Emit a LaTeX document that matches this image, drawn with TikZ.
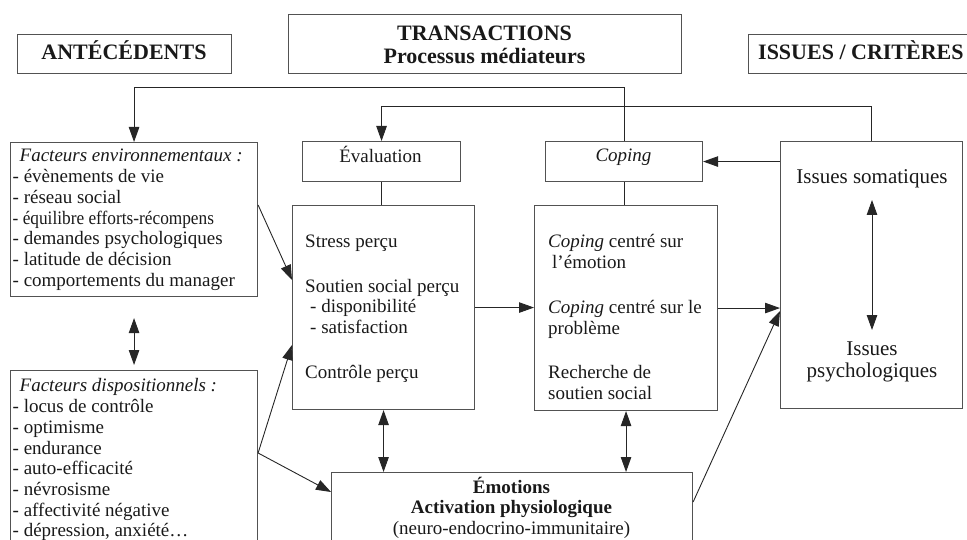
\documentclass[tikz,border=0pt]{standalone}
\usepackage{fontspec}
\setmainfont{Liberation Serif}
\usetikzlibrary{arrows.meta,calc}
\newcommand\topline{\rule{0pt}{20pt}}
\begin{document}
\begin{tikzpicture}[x=1pt,y=-1pt,
  frame/.style={draw=black!68, line width=1.1pt, inner sep=0pt, anchor=north west},
  conn/.style={draw=black!85, line width=0.9pt},
  tip/.style={Triangle[length=15pt,width=10.5pt]},
  arr/.style={conn, -{Triangle[length=15pt,width=10.5pt]}},
  darr/.style={conn, {Triangle[length=15pt,width=10.5pt]}-{Triangle[length=15pt,width=10.5pt]}},
  body/.style={font=\fontsize{19}{20.7}\selectfont, text=black!90, inner sep=0pt},
  bigbody/.style={font=\fontsize{21}{22}\selectfont, text=black!90, inner sep=0pt},
  head/.style={font=\fontsize{22}{23.5}\selectfont\bfseries, text=black!90, inner sep=0pt},
]
\useasboundingbox (0,0) rectangle (967,540);
\clip (0,0) rectangle (967,540);

% column headers
\node[frame, minimum width=214pt, minimum height=39pt] (hAnt) at (17,34) {};
\node[frame, minimum width=393pt, minimum height=59pt] (hTrans) at (288,14) {};
\node[frame, minimum width=230pt, minimum height=39pt] (hIss) at (748,34) {};
\node[head, anchor=base] (hAntT) at (124,59.5) {ANTÉCÉDENTS};
\node[head, anchor=north, align=center] (hTransT) at (484.5,20) {\topline TRANSACTIONS\\Processus médiateurs};
\node[head, anchor=base west] (hIssT) at (758,59.5) {ISSUES / CRITÈRES};

% boxes
\node[frame, minimum width=247pt, minimum height=154pt] (env) at (10,142) {};
\node[frame, minimum width=247pt, minimum height=190pt] (disp) at (10,370) {};
\node[frame, minimum width=158pt, minimum height=40pt] (eval) at (302,141) {};
\node[frame, minimum width=157pt, minimum height=40pt] (copS) at (545,141) {};
\node[frame, minimum width=182pt, minimum height=204pt] (stress) at (292,205) {};
\node[frame, minimum width=183pt, minimum height=205pt] (copB) at (534,205) {};
\node[frame, minimum width=182pt, minimum height=267pt] (iss) at (780,141) {};
\node[frame, minimum width=361pt, minimum height=90pt] (emo) at (331,472) {};

% box texts
\node[body, anchor=north west, align=left] (envT) at (12.5,141.7)
  {\topline\hspace{7pt}\textit{Facteurs environnementaux~:}\\
   - évènements de vie\\
   - réseau social\\
   \scalebox{0.91}[1]{- équilibre efforts-récompens}\\
   - demandes psychologiques\\
   - latitude de décision\\
   - comportements du manager};
\node[body, anchor=north west, align=left] (dispT) at (12.5,371.7)
  {\topline\hspace{7pt}\textit{Facteurs dispositionnels~:}\\
   - locus de contrôle\\
   - optimisme\\
   - endurance\\
   - auto-efficacité\\
   - névrosisme\\
   - affectivité négative\\
   - dépression, anxiété…};
\node[body, anchor=base] (evalT) at (380.5,163) {Évaluation};
\node[body, anchor=base] (copST) at (623.5,162) {\textit{Coping}};
\node[body, anchor=north west, align=left] (stressT) at (305,227.3)
  {\topline Stress perçu\\[24pt]
   Soutien social perçu\\
   \hspace{5pt}- disponibilité\\
   \hspace{5pt}- satisfaction\\[24pt]
   Contrôle perçu};
\node[body, anchor=north west, align=left] (copBT) at (548,227.7)
  {\topline\textit{Coping} centré sur\\
   \hspace{4pt}l’émotion\\[24pt]
   \textit{Coping} centré sur le\\
   problème\\[24pt]
   Recherche de\\
   soutien social};
\node[bigbody, anchor=base] (somT) at (872,184) {Issues somatiques};
\node[bigbody, anchor=north, align=center] (psyT) at (872,335)
  {\topline Issues\\psychologiques};
\node[body, anchor=north, align=center] (emoT) at (511.5,473)
  {\topline\textbf{Émotions}\\
   \textbf{Activation physiologique}\\
   (neuro-endocrino-immunitaire)};

% feedback loops along the top
\coordinate (top1) at (0,87);
\coordinate (top2) at (0,106);
\draw[arr] (copS.north) -- (copS.north |- top1) -| (env.north);
\draw[arr] (iss.north) -- (iss.north |- top2) -| (eval.north);
\draw[arr] (iss.west |- copS.east) -- (copS.east);

% links between the columns
\draw[conn] (eval.south) -- (eval.south |- stress.north);
\draw[conn] (copS.south) -- (copS.south |- copB.north);
\draw[arr] (stress.east) -- (stress.east -| copB.west);
\draw[arr] (copB.east) -- (copB.east -| iss.west);
\draw[arr] ($(env.north east)+(0,63)$) -- ($(stress.north west)+(0,75)$);
\draw[arr] ($(disp.north east)+(0,83)$) -- ($(stress.north west)+(0,140)$);
\draw[arr] ($(disp.north east)+(0,83)$) -- ($(emo.north west)+(0,20)$);
\draw[arr] ($(emo.north east)+(0,30)$) -- ($(iss.north west)+(0,170)$);

% two-way links
\draw[darr] ($(env.south)+(0,21)$) -- ($(disp.north)+(0,-5)$);
\draw[darr] (stress.south) -- (stress.south |- emo.north);
\draw[darr] (copB.south) -- (copB.south |- emo.north);
\draw[darr] ($(somT.base)+(0,16)$) -- ($(psyT.north)+(0,-5)$);
\end{tikzpicture}
\end{document}
